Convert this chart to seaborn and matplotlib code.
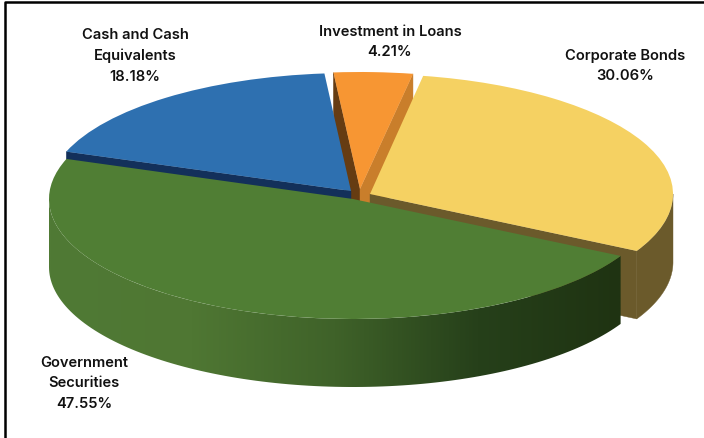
import numpy as np
import matplotlib
matplotlib.use("Agg")
import matplotlib.pyplot as plt
from matplotlib.patches import Polygon
from matplotlib.transforms import Affine2D
from matplotlib.colors import LinearSegmentedColormap
import seaborn as sns

categories = ["Government\nSecurities", "Corporate Bonds", "Investment in Loans", "Cash and Cash\nEquivalents"]
shares = [47.55, 30.06, 4.21, 18.18]
share_labels = ["47.55%", "30.06%", "4.21%", "18.18%"]

top_colors = ["#507e34", "#f5d162", "#f79633", "#2e70b0"]
START = 160.5
DEPTH = 68.0
H = 439
# slice apex positions and ellipse radii in picture pixels
apex = [(353, 200), (370, 195), (360, 190), (351, 192)]
radii_x = [304, 303, 302, 302]
radii_y = [120, 120, 117, 118]
label_xy = [(84, 383.5), (625, 66), (390, 42), (135, 56)]

sns.set_theme(style="white")
plt.rcParams["font.family"] = ["Inter", "DejaVu Sans"]

fig = plt.figure(figsize=(7.04, 4.39), dpi=100, facecolor="white")
ax = fig.add_axes([0, 0, 1, 1])

angles = START + np.cumsum([0] + shares) * 3.6


def arc(i, a0, a1, n=120):
    cx, cy = apex[i]
    t = np.radians(np.linspace(a0, a1, n))
    return cx + radii_x[i] * np.cos(t), (H - cy) + radii_y[i] * np.sin(t)


def wall(i, deg, color, z):
    cx, cy = apex[i]
    x, y = arc(i, deg, deg, 1)
    x, y = x[0], y[0]
    ax.fill([cx, x, x, cx], [H - cy, y, y - DEPTH, H - cy - DEPTH],
            color=color, lw=0.3, zorder=z)


def top(i, z):
    cx, cy = apex[i]
    cy = H - cy
    wedges, _ = ax.pie([shares[i], 100 - shares[i]], startangle=angles[i],
                       colors=[top_colors[i], "white"], center=(cx, cy),
                       radius=radii_x[i], frame=True,
                       wedgeprops=dict(linewidth=0))
    wedges[1].remove()
    squash = Affine2D().translate(-cx, -cy).scale(1, radii_y[i] / radii_x[i]).translate(cx, cy)
    wedges[0].set_transform(squash + ax.transData)
    wedges[0].set_zorder(z)


# Orange slice (furthest back)
wall(2, angles[3], "#663c12", 1)
wall(2, angles[2], "#c97e2b", 1)
top(2, 2)
# Blue slice
wall(3, angles[4], "#13305a", 3)
top(3, 4)
# Yellow slice
x, y = arc(1, angles[1], 360)
ax.fill(np.r_[x, x[::-1]], np.r_[y, y[::-1] - DEPTH], color="#6b5a2b", lw=0.3, zorder=5)
wall(1, angles[1], "#6b5a2b", 5)
top(1, 6)

# Green slice, shaded rim
x, y = arc(0, 180, angles[1])
rim = Polygon(np.c_[np.r_[x, x[::-1]], np.r_[y, y[::-1] - DEPTH]], closed=True,
              transform=ax.transData, facecolor="none", edgecolor="none")
ax.add_patch(rim)
x0, x1 = x.min(), x.max()
stops = [(0.0, "#507a35"), (0.25, "#4f7733"), (0.5, "#3f6229"), (0.75, "#26401a"), (1.0, "#1f3312")]
cmap = LinearSegmentedColormap.from_list("rim", stops)
grad = ax.imshow(np.linspace(0, 1, 512)[None, :], cmap=cmap, aspect="auto", zorder=7,
                 extent=(x0, x1, H - 400, H - 150), interpolation="bilinear")
grad.set_clip_path(rim)
top(0, 8)

for cat, lab, (lx, ly) in zip(categories, share_labels, label_xy):
    ax.text(lx, H - ly, f"{cat}\n{lab}", ha="center", va="center", fontsize=10.6,
            fontweight="semibold", color="#111111", linespacing=1.58, zorder=10)

# black frame of the picture
ax.plot([5, 5, 704], [0, H - 3, H - 3], color="black", lw=1.8, solid_capstyle="butt", zorder=11)

ax.set_xlim(0, 704)
ax.set_ylim(0, H)
ax.set_aspect("auto")
ax.set_xticks([])
ax.set_yticks([])
ax.set_frame_on(False)
fig.savefig("out.png", dpi=100, facecolor="white")
